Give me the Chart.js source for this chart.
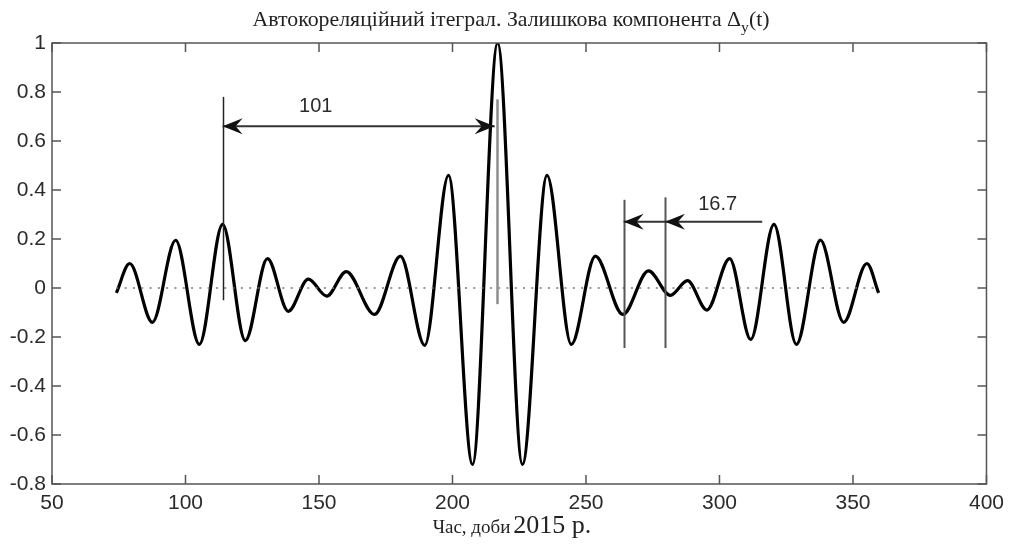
<!DOCTYPE html>
<html>
<head>
<meta charset="utf-8">
<script src="https://cdn.jsdelivr.net/npm/chart.js@4.4.1/dist/chart.umd.min.js"></script>
<style>
  html, body { margin: 0; padding: 0; background: #fff; }
</style>
</head>
<body>
<canvas id="acfChart" width="1011" height="548"></canvas>
<script>
// Autocorrelation of the residual component: turning points, day of 2015
var days = [74.1, 79.1, 87.6, 96.3, 105.2, 113.9, 122.4, 130.7, 138.5, 146.0, 152.9, 160.2,
            170.8, 180.5, 189.6, 198.5, 207.5, 216.9, 226.2, 235.4, 244.5, 253.5, 263.8,
            273.4, 281.6, 288.0, 295.3, 303.8, 311.7, 320.4, 328.8, 337.8, 346.5, 355.2, 359.6];
var acf = [-0.02, 0.10, -0.14, 0.195, -0.23, 0.26, -0.215, 0.12, -0.095, 0.036, -0.033, 0.067,
           -0.108, 0.13, -0.234, 0.46, -0.72, 1.0, -0.72, 0.46, -0.23, 0.13, -0.108,
           0.07, -0.03, 0.03, -0.09, 0.12, -0.21, 0.26, -0.23, 0.195, -0.14, 0.10, -0.02];
var zeroLineDays = [74.1, 359.6];

var xTicks = [50, 100, 150, 200, 250, 300, 350, 400];
var yTicks = [-0.8, -0.6, -0.4, -0.2, 0, 0.2, 0.4, 0.6, 0.8, 1];

// vertical marker lines (day, top, bottom)
var markerDays = [113.9, 216.8, 264.1, 279.6];
var markerTop = [0.78, 0.77, 0.36, 0.37];
var markerBottom = [-0.05, -0.066, -0.245, -0.245];

// period arrows: shaft from/to at level y, heads given as tip day and direction
var arrowY = [0.66, 0.27];
var arrowFrom = [113.9, 264.1];
var arrowTo = [215.8, 316.0];
var headDays = [113.9, 215.8, 264.1, 279.6];
var headDir = [-1, 1, -1, -1];
var headRow = [0, 0, 1, 1];

var periodLabels = ['101', '16.7'];
var periodLabelDays = [148.8, 299.3];
var periodLabelY = [0.74, 0.34];

function arrowHead(ctx, x, y, dir) {
  var len = 20, half = 8, notch = 13;
  ctx.beginPath();
  ctx.moveTo(x, y);
  ctx.lineTo(x - dir * len, y - half);
  ctx.lineTo(x - dir * notch, y);
  ctx.lineTo(x - dir * len, y + half);
  ctx.closePath();
  ctx.fill();
}

var decorations = {
  id: 'decorations',
  afterDatasetsDraw: function (chart) {
    var ctx = chart.ctx, a = chart.chartArea;
    var sx = chart.scales.x, sy = chart.scales.y;
    ctx.save();

    // marker lines
    var markerColors = ['#222', '#8c8c8c', '#555', '#555'];
    var markerWidths = [1.5, 2.5, 2, 2];
    for (var i = 0; i < markerDays.length; i++) {
      var px = Math.round(sx.getPixelForValue(markerDays[i])) + 0.5;
      ctx.strokeStyle = markerColors[i];
      ctx.lineWidth = markerWidths[i];
      ctx.beginPath();
      ctx.moveTo(px, sy.getPixelForValue(markerTop[i]));
      ctx.lineTo(px, sy.getPixelForValue(markerBottom[i]));
      ctx.stroke();
    }

    // arrow shafts and heads
    ctx.strokeStyle = '#333';
    ctx.fillStyle = '#111';
    ctx.lineWidth = 2;
    for (var j = 0; j < arrowY.length; j++) {
      var py = sy.getPixelForValue(arrowY[j]);
      ctx.beginPath();
      ctx.moveTo(sx.getPixelForValue(arrowFrom[j]), py);
      ctx.lineTo(sx.getPixelForValue(arrowTo[j]), py);
      ctx.stroke();
    }
    for (var k = 0; k < headDays.length; k++) {
      arrowHead(ctx, sx.getPixelForValue(headDays[k]), sy.getPixelForValue(arrowY[headRow[k]]), headDir[k]);
    }

    // period labels
    ctx.fillStyle = '#2b2b2b';
    ctx.font = '20px "Liberation Sans", Arial, sans-serif';
    ctx.textAlign = 'center';
    ctx.textBaseline = 'middle';
    for (var m = 0; m < periodLabels.length; m++) {
      ctx.fillText(periodLabels[m], sx.getPixelForValue(periodLabelDays[m]), sy.getPixelForValue(periodLabelY[m]));
    }

    // axes box with inward ticks on all four sides
    var tl = 9;
    ctx.strokeStyle = '#555';
    ctx.lineWidth = 1.5;
    ctx.strokeRect(a.left, a.top, a.right - a.left, a.bottom - a.top);
    ctx.beginPath();
    xTicks.forEach(function (v) {
      var x = sx.getPixelForValue(v);
      ctx.moveTo(x, a.bottom); ctx.lineTo(x, a.bottom - tl);
      ctx.moveTo(x, a.top); ctx.lineTo(x, a.top + tl);
    });
    yTicks.forEach(function (v) {
      var y = sy.getPixelForValue(v);
      ctx.moveTo(a.left, y); ctx.lineTo(a.left + tl, y);
      ctx.moveTo(a.right, y); ctx.lineTo(a.right - tl, y);
    });
    ctx.stroke();

    // title with subscript
    var t1 = 'Автокореляційний ітеграл. Залишкова компонента Δ', t2 = 'y', t3 = '(t)';
    var big = '21px "Liberation Serif", "Times New Roman", serif';
    var small = '15px "Liberation Serif", "Times New Roman", serif';
    ctx.fillStyle = '#222';
    ctx.textAlign = 'left';
    ctx.textBaseline = 'alphabetic';
    ctx.font = big;
    var w1 = ctx.measureText(t1).width, w3 = ctx.measureText(t3).width;
    ctx.font = small;
    var w2 = ctx.measureText(t2).width;
    var total = w1 + w2 + w3;
    var stretch = 517 / total;
    ctx.save();
    ctx.translate(511 - total * stretch / 2, 26);
    ctx.scale(stretch, 1);
    ctx.font = big;
    ctx.fillText(t1, 0, 0);
    ctx.font = small;
    ctx.fillText(t2, w1, 6);
    ctx.font = big;
    ctx.fillText(t3, w1 + w2, 0);
    ctx.restore();

    // x axis caption
    var c1 = 'Час, доби', c2 = '2015 р.';
    var f1 = '19px "Liberation Serif", "Times New Roman", serif';
    var f2 = '26px "Liberation Serif", "Times New Roman", serif';
    ctx.font = f1;
    var cw1 = ctx.measureText(c1).width;
    ctx.font = f2;
    var cw2 = ctx.measureText(c2).width;
    var cx = 512 - (cw1 + 3 + cw2) / 2;
    ctx.font = f1;
    ctx.fillText(c1, cx, 533);
    ctx.font = f2;
    ctx.fillText(c2, cx + cw1 + 3, 533);

    ctx.restore();
  }
};

var curve = days.map(function (d, i) { return { x: d, y: acf[i] }; });
var zeroLine = zeroLineDays.map(function (d) { return { x: d, y: 0 }; });

var ctxAcf = document.getElementById('acfChart').getContext('2d');
var acfChart = new Chart(ctxAcf, {
  type: 'line',
  data: {
    datasets: [{
      label: 'zero',
      data: zeroLine,
      borderColor: '#777',
      borderWidth: 1.5,
      borderDash: [2, 6.3],
      pointRadius: 0
    }, {
      label: 'Δy(t)',
      data: curve,
      borderColor: '#000',
      borderWidth: 3.2,
      cubicInterpolationMode: 'monotone',
      pointRadius: 0
    }]
  },
  options: {
    responsive: false,
    animation: false,
    events: [],
    layout: { padding: { top: 43, right: 21, left: 0, bottom: 0 } },
    plugins: {
      legend: { display: false },
      title: { display: false },
      tooltip: { enabled: false }
    },
    scales: {
      x: {
        type: 'linear',
        min: 50,
        max: 400,
        afterFit: function (scale) { scale.height = 64; },
        afterBuildTicks: function (scale) {
          scale.ticks = xTicks.map(function (v) { return { value: v }; });
        },
        grid: { display: false, drawTicks: false },
        border: { display: false },
        ticks: {
          padding: 7,
          color: '#2b2b2b',
          font: { family: '"Liberation Sans", Arial, sans-serif', size: 21 },
          maxRotation: 0
        }
      },
      y: {
        min: -0.8,
        max: 1,
        afterFit: function (scale) { scale.width = 52; },
        afterBuildTicks: function (scale) {
          scale.ticks = yTicks.map(function (v) { return { value: v }; });
        },
        grid: { display: false, drawTicks: false },
        border: { display: false },
        ticks: {
          padding: 6,
          color: '#2b2b2b',
          font: { family: '"Liberation Sans", Arial, sans-serif', size: 21 },
          callback: function (v) { return String(+v.toFixed(1)); }
        }
      }
    }
  },
  plugins: [decorations]
});
</script>
</body>
</html>
